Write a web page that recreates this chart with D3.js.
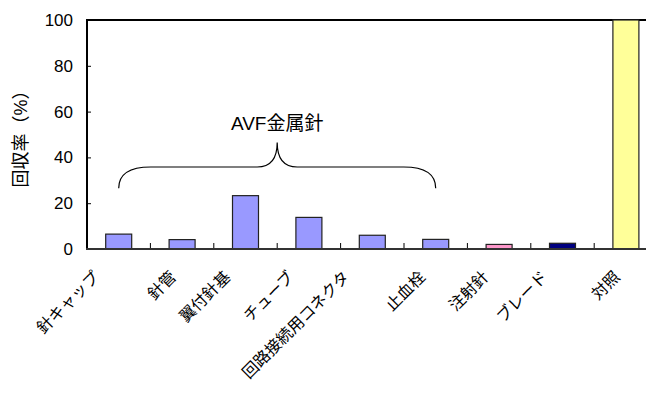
<!DOCTYPE html>
<html lang="ja">
<head>
<meta charset="UTF-8">
<title>回収率</title>
<script src="https://cdn.jsdelivr.net/npm/d3@7"></script>
<style>
    body { margin: 0; background: #fff; overflow: hidden; }
    svg text { font-family: "Liberation Sans", Arial, "Noto Sans CJK JP", sans-serif; fill: #000; }
</style>
</head>
<body>
<svg id="chart" width="646" height="394"></svg>
<script>
    // data
    const categories = ["針キャップ", "針管", "翼付針基", "チューブ", "回路接続用コネクタ", "止血栓", "注射針", "ブレード", "対照"];
    const values = [6.5, 4.1, 23.3, 13.8, 6.0, 4.2, 2.0, 2.5, 100];
    const colors = ["#9999ff", "#9999ff", "#9999ff", "#9999ff", "#9999ff", "#9999ff", "#ff99cc", "#000080", "#ffff99"];
    const yTicks = [0, 20, 40, 60, 80, 100];
    const groupLabel = "AVF金属針";
    const groupSpan = [0, 5]; // first and last category under the brace

    const plotLeft = 87, plotRight = 657.6, plotTop = 20, plotBottom = 249;

    const svg = d3.select("#chart");

    const x = d3.scaleBand()
        .domain(categories)
        .range([plotLeft, plotRight]);

    const y = d3.scaleLinear()
        .domain([0, 100])
        .range([plotBottom, plotTop]);

    const barW = x.step() * 0.41;

    // plot area frame (top edge, right edge falls outside the window)
    svg.append("path")
        .attr("d", `M${plotLeft},${plotTop}H${plotRight}`)
        .attr("stroke", "#000")
        .attr("stroke-width", 2)
        .attr("fill", "none");

    // bars
    svg.selectAll("rect.bar")
        .data(categories)
        .enter()
        .append("rect")
        .attr("class", "bar")
        .attr("x", d => x(d) + (x.step() - barW) / 2)
        .attr("y", (d, i) => y(values[i]))
        .attr("width", barW)
        .attr("height", (d, i) => y(0) - y(values[i]))
        .attr("fill", (d, i) => colors[i])
        .attr("stroke", "#222")
        .attr("stroke-width", 1.2);

    // y axis
    const yAxis = svg.append("g")
        .attr("transform", `translate(${plotLeft},0)`)
        .call(d3.axisRight(y).tickValues(yTicks).tickSize(4).tickFormat(d3.format("d")));
    yAxis.select(".domain").remove();
    yAxis.selectAll(".tick line").attr("stroke", "#000");
    yAxis.selectAll(".tick text")
        .attr("x", -14)
        .attr("text-anchor", "end")
        .style("font-size", "17px");

    svg.append("line")
        .attr("x1", plotLeft).attr("x2", plotLeft)
        .attr("y1", plotTop - 1).attr("y2", plotBottom + 1)
        .attr("stroke", "#000")
        .attr("stroke-width", 2);

    // x axis: ticks at category boundaries, pointing up
    svg.selectAll("line.xtick")
        .data(categories.slice(1))
        .enter()
        .append("line")
        .attr("x1", d => x(d)).attr("x2", d => x(d))
        .attr("y1", plotBottom).attr("y2", plotBottom - 6)
        .attr("stroke", "#000");

    svg.append("line")
        .attr("x1", plotLeft - 1).attr("x2", plotRight)
        .attr("y1", plotBottom).attr("y2", plotBottom)
        .attr("stroke", "#333")
        .attr("stroke-width", 2);

    // rotated category labels (longer labels sit a little further left, like Excel does)
    const labelShift = d => Math.min(22, Math.max(5, 4.5 * d.length - 4));
    svg.selectAll("text.xlab")
        .data(categories)
        .enter()
        .append("text")
        .attr("class", "xlab")
        .attr("transform", d => `translate(${x(d) + x.step() / 2 - labelShift(d)},${plotBottom + 29}) rotate(-45)`)
        .attr("text-anchor", "end")
        .style("font-size", "16px")
        .text(d => d);

    // y axis title
    svg.append("text")
        .attr("transform", `translate(27,${(plotTop + plotBottom) / 2}) rotate(-90)`)
        .attr("text-anchor", "middle")
        .style("font-size", "18px")
        .text("回収率（%）");

    // brace over the AVF group
    const bx0 = x(categories[groupSpan[0]]) + x.step() / 2;
    const bx1 = x(categories[groupSpan[1]]) + x.step() / 2;
    const bm = (bx0 + bx1) / 2;
    const yEnd = y(26.5), yFlat = y(35.8), yTip = y(46.5);
    const r = 32;
    svg.append("path")
        .attr("d", `M${bx0},${yEnd} Q${bx0},${yFlat} ${bx0 + r},${yFlat} H${bm - 20} Q${bm},${yFlat} ${bm},${yTip}` +
                   ` Q${bm},${yFlat} ${bm + 20},${yFlat} H${bx1 - r} Q${bx1},${yFlat} ${bx1},${yEnd}`)
        .attr("fill", "none")
        .attr("stroke", "#000")
        .attr("stroke-width", 1.2);

    svg.append("text")
        .attr("x", bm)
        .attr("y", yTip - 13)
        .attr("text-anchor", "middle")
        .style("font-size", "19px")
        .text(groupLabel);
</script>
</body>
</html>
